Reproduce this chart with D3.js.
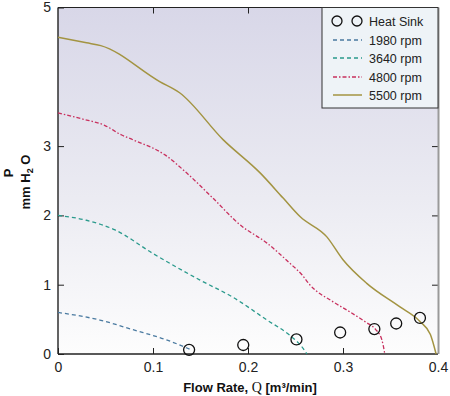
<!DOCTYPE html>
<html><head><meta charset="utf-8">
<script src="https://cdn.jsdelivr.net/npm/d3@7"></script>
<style>body{margin:0;background:#fff}svg{display:block}</style>
</head><body>
<svg id="c" width="450" height="396"></svg>
<script>
// ---- data ----
const xTicks = [0, 0.1, 0.2, 0.3, 0.4];
const xTickLabels = ["0", "0.1", "0.2", "0.3", "0.4"];
const yTicks = [0, 1, 2, 3, 5];
const yTickLabels = ["0", "1", "2", "3", "5"];

const q1980 = [0, 0.044, 0.079, 0.115, 0.135, 0.14];
const p1980 = [0.6, 0.49, 0.35, 0.2, 0.09, 0.06];

const q3640 = [0, 0.03, 0.06, 0.1, 0.149, 0.184, 0.22, 0.244, 0.253, 0.258, 0.262];
const p3640 = [2.0, 1.93, 1.79, 1.45, 1.07, 0.82, 0.49, 0.27, 0.16, 0.08, 0.0];

const q4800 = [0, 0.026, 0.049, 0.067, 0.079, 0.113, 0.134, 0.163, 0.192, 0.22, 0.244, 0.257, 0.265, 0.29, 0.307, 0.325, 0.334, 0.341, 0.344];
const p4800 = [3.48, 3.39, 3.30, 3.16, 3.09, 2.87, 2.63, 2.25, 1.86, 1.60, 1.31, 1.14, 1.0, 0.75, 0.61, 0.45, 0.36, 0.2, 0.0];

const q5500 = [0, 0.03, 0.045, 0.107, 0.128, 0.174, 0.213, 0.237, 0.255, 0.283, 0.300, 0.325, 0.360, 0.381, 0.392, 0.398];
const p5500 = [4.57, 4.49, 4.45, 3.93, 3.77, 3.09, 2.61, 2.25, 1.98, 1.69, 1.36, 1.02, 0.68, 0.47, 0.28, 0.0];

const qSink = [0.138, 0.195, 0.251, 0.297, 0.333, 0.356, 0.381];
const pSink = [0.06, 0.13, 0.21, 0.31, 0.36, 0.44, 0.52];

const seriesNames = ["1980 rpm", "3640 rpm", "4800 rpm", "5500 rpm"];
const seriesQ = [q1980, q3640, q4800, q5500];
const seriesP = [p1980, p3640, p4800, p5500];
const seriesColor = ["#4a7aa0", "#2a9a8c", "#c8305e", "#a39442"];
const seriesDash = ["4,3", "4,3", "4,2,1.5,2", null];

// ---- layout ----
const L = 58, R = 438, T = 7.5, B = 354;
const svg = d3.select("#c");
const x = d3.scaleLinear().domain([0, 0.4]).range([L, R]);
const y = d3.scaleLinear().domain([0, 5]).range([B, T]);

const defs = svg.append("defs");
const grad = defs.append("linearGradient").attr("id", "bg").attr("x1", 0).attr("y1", 0).attr("x2", 0).attr("y2", 1);
grad.append("stop").attr("offset", "0%").attr("stop-color", "#d8d7e8");
grad.append("stop").attr("offset", "55%").attr("stop-color", "#ebebf2");
grad.append("stop").attr("offset", "100%").attr("stop-color", "#fdfdfd");

svg.append("rect").attr("x", L).attr("y", T).attr("width", R - L).attr("height", B - T).attr("fill", "url(#bg)");

// axes
const font = "'Liberation Sans', Arial, sans-serif";
const ax = svg.append("g").attr("transform", `translate(0,${B})`)
  .call(d3.axisBottom(x).tickValues(xTicks).tickFormat((d, i) => xTickLabels[i]).tickSize(-6).tickPadding(8));
ax.select(".domain").remove();
ax.selectAll("text").attr("font-family", font).attr("font-size", 14).attr("fill", "#222");
ax.selectAll("line").attr("stroke", "#222");

const axT = svg.append("g").attr("transform", `translate(0,${T})`)
  .call(d3.axisTop(x).tickValues(xTicks.slice(1, 3)).tickFormat("").tickSize(-6));
axT.select(".domain").remove();
axT.selectAll("line").attr("stroke", "#222");

const ay = svg.append("g").attr("transform", `translate(${L},0)`)
  .call(d3.axisLeft(y).tickValues(yTicks).tickFormat((d, i) => yTickLabels[i]).tickSize(-6).tickPadding(7));
ay.select(".domain").remove();
ay.selectAll("text").attr("font-family", font).attr("font-size", 14).attr("fill", "#222");
ay.selectAll("line").attr("stroke", "#222");

const ayR = svg.append("g").attr("transform", `translate(${R},0)`)
  .call(d3.axisRight(y).tickValues([1, 2, 3, 4]).tickFormat("").tickSize(-6));
ayR.select(".domain").remove();
ayR.selectAll("line").attr("stroke", "#222");

// frame
svg.append("line").attr("x1", L).attr("x2", R).attr("y1", T).attr("y2", T).attr("stroke", "#222").attr("stroke-width", 1.2);
svg.append("line").attr("x1", L).attr("x2", R).attr("y1", B).attr("y2", B).attr("stroke", "#222").attr("stroke-width", 1.4);
svg.append("line").attr("x1", L).attr("x2", L).attr("y1", T).attr("y2", B).attr("stroke", "#222").attr("stroke-width", 1.4);
svg.append("line").attr("x1", R + 0.5).attr("x2", R + 0.5).attr("y1", T).attr("y2", B).attr("stroke", "#9a9a9a").attr("stroke-width", 2);

// curves
const line = d3.line().x(d => x(d[0])).y(d => y(d[1])).curve(d3.curveMonotoneX);
seriesQ.forEach((qs, i) => {
  const pts = qs.map((q, j) => [q, seriesP[i][j]]);
  svg.append("path").attr("d", line(pts)).attr("fill", "none")
    .attr("stroke", seriesColor[i]).attr("stroke-width", i === 3 ? 1.5 : 1.3)
    .attr("stroke-dasharray", seriesDash[i]);
});

// heat sink circles
svg.append("g").selectAll("circle").data(qSink.map((q, j) => [q, pSink[j]])).join("circle")
  .attr("cx", d => x(d[0])).attr("cy", d => y(d[1])).attr("r", 5.5)
  .attr("fill", "none").attr("stroke", "#111").attr("stroke-width", 1.3);

// legend
const lg = svg.append("g");
lg.append("rect").attr("x", 322).attr("y", T).attr("width", R - 322).attr("height", 108 - T)
  .attr("fill", "#eef3f7").attr("stroke", "#333").attr("stroke-width", 1);
const rowY = [21, 40, 58, 77, 95];
[337, 357].forEach(cx => lg.append("circle").attr("cx", cx).attr("cy", rowY[0]).attr("r", 5)
  .attr("fill", "none").attr("stroke", "#111").attr("stroke-width", 1.3));
lg.append("text").attr("x", 369).attr("y", rowY[0] + 4.5).text("Heat Sink")
  .attr("font-family", font).attr("font-size", 12.5).attr("fill", "#222");
seriesNames.forEach((nm, i) => {
  const yy = rowY[i + 1];
  lg.append("line").attr("x1", 333).attr("x2", 362).attr("y1", yy).attr("y2", yy)
    .attr("stroke", seriesColor[i]).attr("stroke-width", i === 3 ? 1.5 : 1.3).attr("stroke-dasharray", seriesDash[i]);
  lg.append("text").attr("x", 369).attr("y", yy + 4.5).text(nm)
    .attr("font-family", font).attr("font-size", 12.5).attr("fill", "#222");
});

// axis titles
const xt = svg.append("text").attr("x", 250).attr("y", 392).attr("text-anchor", "middle")
  .attr("font-family", font).attr("font-size", 13).attr("font-weight", "bold").attr("fill", "#111");
xt.append("tspan").text("Flow Rate, ");
xt.append("tspan").attr("font-family", "'Liberation Serif', 'Times New Roman', serif").attr("font-weight", "normal").attr("font-size", 14).text("Q");
xt.append("tspan").text(" [m³/min]");

svg.append("text").attr("transform", "translate(13,173) rotate(-90)").attr("text-anchor", "middle")
  .attr("font-family", font).attr("font-size", 13).attr("font-weight", "bold").attr("fill", "#111").text("P");
const yt = svg.append("text").attr("transform", "translate(30,182) rotate(-90)").attr("text-anchor", "middle")
  .attr("font-family", font).attr("font-size", 13).attr("font-weight", "bold").attr("fill", "#111");
yt.append("tspan").text("mm H");
yt.append("tspan").attr("font-size", 9).attr("dy", 3).text("2");
yt.append("tspan").attr("dy", -3).text(" O");
</script>
</body></html>
